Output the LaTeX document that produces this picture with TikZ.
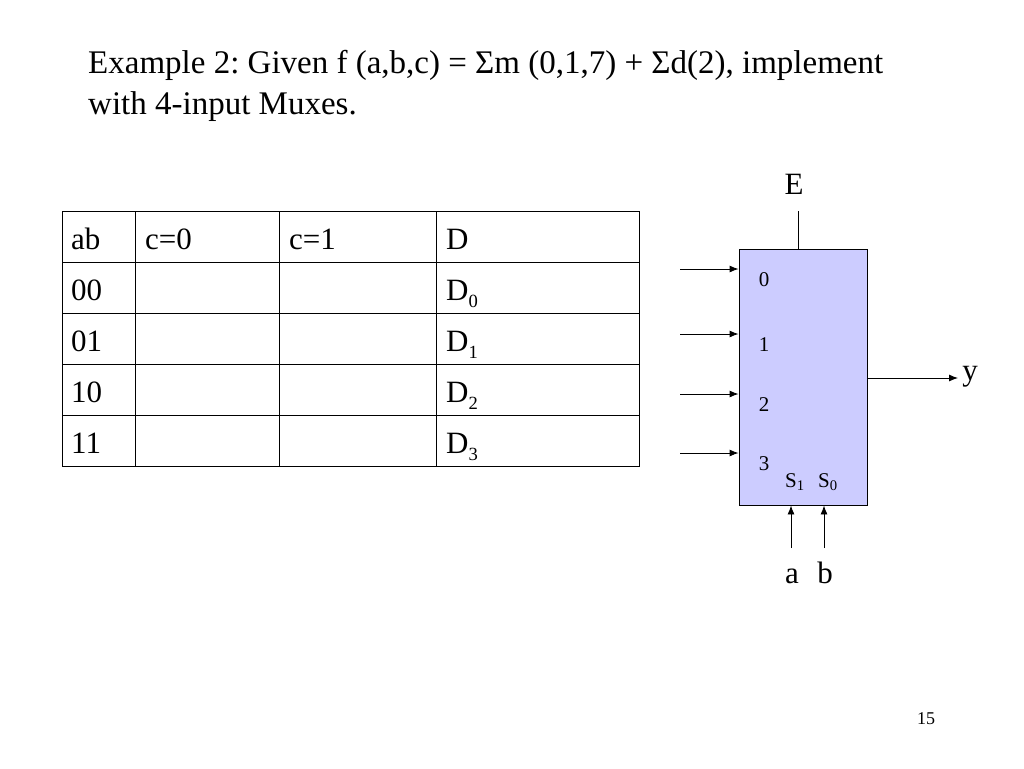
\documentclass[tikz,border=0pt]{standalone}
\usepackage{fontspec}
\setmainfont{Liberation Serif}
\usetikzlibrary{arrows.meta}
\newcommand{\sbs}[1]{\raisebox{-0.25em}{\fontsize{0.6em}{0.7em}\selectfont #1}}
\frenchspacing
\begin{document}
\begin{tikzpicture}[x=1pt,y=-1pt,
  big/.style={font=\fontsize{33}{38}\selectfont,inner sep=0pt},
  tt/.style={font=\fontsize{31}{36}\selectfont,anchor=base west,inner sep=0pt},
  sm/.style={font=\fontsize{21}{24}\selectfont,inner sep=0pt},
  arr/.style={-{Latex[length=9pt,width=7pt]},line width=0.9pt}]
\useasboundingbox (0,0) rectangle (1024,768);
\node[big,anchor=base west] (t1) at (88,73) {Example 2: Given f (a,b,c) = Σm (0,1,7) + Σd(2), implement};
\node[big,anchor=base west] (t2) at (88,114) {with 4-input Muxes.};
\draw[line width=0.9pt] (62,211) rectangle (639,466);
\foreach \y in {262,313,364,415} \draw[line width=0.9pt] (62,\y) -- (639,\y);
\foreach \x in {135,279,436} \draw[line width=0.9pt] (\x,211) -- (\x,466);
\node[tt] (h1) at (71,249) {ab};
\node[tt] (h2) at (145,249) {c=0};
\node[tt] (h3) at (289,249) {c=1};
\node[tt] (h4) at (446,249) {D};
\node[tt] (r1) at (71,300) {00};
\node[tt] (r2) at (71,351) {01};
\node[tt] (r3) at (71,402) {10};
\node[tt] (r4) at (71,453) {11};
\node[tt] (d0) at (446,300) {D\sbs{0}};
\node[tt] (d1) at (446,351) {D\sbs{1}};
\node[tt] (d2) at (446,402) {D\sbs{2}};
\node[tt] (d3) at (446,453) {D\sbs{3}};
\node[draw,fill={rgb,255:red,204;green,204;blue,255},minimum width=128pt,minimum height=256pt,inner sep=0pt,line width=0.9pt] (mux) at (803,377) {};
\node[tt,anchor=base] (E) at (794,194) {E};
\draw[line width=0.9pt] (798,211) -- (mux.north -| 798,0);
\foreach \y/\l in {269/0,334/1,394/2,453/3}{
  \coordinate (i\l) at (680,\y);
  \draw[arr] (i\l) -- (i\l -| mux.west);
  \node[sm,anchor=base] (l\l) at (764,\y+17) {\l};
}
\node[sm,anchor=base] (s1) at (795,487) {S\textsubscript{1}};
\node[sm,anchor=base] (s0) at (828,487) {S\textsubscript{0}};
\coordinate (ca) at (791,548); \coordinate (cb) at (824,548);
\draw[arr] (ca) -- (ca |- mux.south);
\draw[arr] (cb) -- (cb |- mux.south);
\node[tt,anchor=base] (a) at (792,583) {a};
\node[tt,anchor=base] (b) at (825,583) {b};
\coordinate (yo) at (958,378);
\draw[arr] (mux.east |- yo) -- (yo);
\node[tt,anchor=base] (y) at (970,380) {y};
\node[font=\fontsize{18}{20}\selectfont,anchor=base] (pg) at (926,724) {15};
\end{tikzpicture}
\end{document}
